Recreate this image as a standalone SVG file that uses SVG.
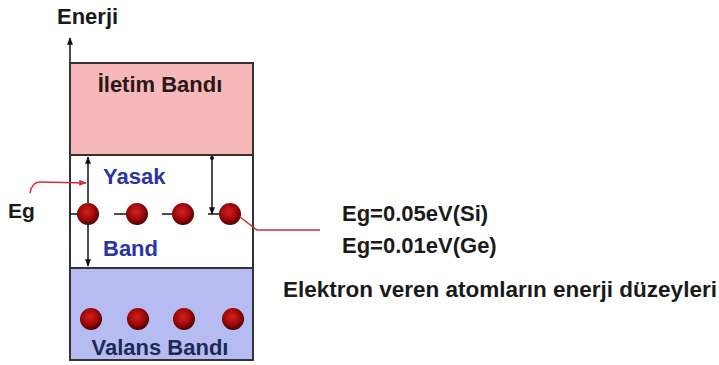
<svg xmlns="http://www.w3.org/2000/svg" width="719" height="365" viewBox="0 0 719 365">
<defs>
<radialGradient id="dot" cx="0.45" cy="0.4" r="0.6">
<stop offset="0" stop-color="#d42020"/>
<stop offset="0.6" stop-color="#a00808"/>
<stop offset="1" stop-color="#4a0000"/>
</radialGradient>
<marker id="ah" viewBox="0 0 10 10" refX="9" refY="5" markerWidth="5" markerHeight="5" orient="auto-start-reverse">
<path d="M0,1 L10,5 L0,9 z" fill="#111"/>
</marker>
<marker id="ahr" viewBox="0 0 10 10" refX="9" refY="5" markerWidth="5" markerHeight="5" orient="auto">
<path d="M0,1 L10,5 L0,9 z" fill="#c8303c"/>
</marker>
</defs>
<style>
text{font-family:"Liberation Sans",Arial,sans-serif;font-weight:bold;font-size:22px}
.box{stroke:#333;stroke-width:2}
.blk{fill:#1a1a1a}
.blue{fill:#2b33a8}
.dot{fill:url(#dot)}
.ln{stroke:#111;stroke-width:1.5;fill:none}
.red{stroke:#c8303c;stroke-width:1.5;fill:none}
</style>
<rect width="719" height="365" fill="#fff"/>
<g id="axis">
<line class="ln" x1="70" y1="360" x2="70" y2="38" marker-end="url(#ah)"/>
<text x="57" y="24" class="blk">Enerji</text>
</g>
<g id="iletim">
<rect class="box" x="70" y="63" width="183" height="92" fill="#f7b8ba"/>
<text x="160" y="92" text-anchor="middle" fill="#2a1818">İletim Bandı</text>
</g>
<g id="yasak">
<rect class="box" x="70" y="155" width="183" height="113" fill="#fff"/>
<text x="103" y="184" class="blue">Yasak</text>
<text x="103" y="256" class="blue">Band</text>
</g>
<g id="valans">
<rect class="box" x="70" y="268" width="183" height="92" fill="#b6bcf2"/>
<text x="160" y="355" text-anchor="middle" fill="#1e2a55">Valans Bandı</text>
<circle class="dot" cx="91" cy="319" r="11"/>
<circle class="dot" cx="138" cy="319" r="11"/>
<circle class="dot" cx="184" cy="319" r="11"/>
<circle class="dot" cx="233" cy="319" r="11"/>
</g>
<g id="donor">
<line class="ln" x1="70" y1="214" x2="80" y2="214"/>
<line class="ln" x1="114" y1="214" x2="127" y2="214"/>
<line class="ln" x1="162" y1="214" x2="173" y2="214"/>
<line class="ln" x1="208" y1="214" x2="220" y2="214"/>
<circle class="dot" cx="88" cy="214" r="11"/>
<circle class="dot" cx="137" cy="214" r="11"/>
<circle class="dot" cx="183" cy="214" r="11"/>
<circle class="dot" cx="230" cy="214" r="11"/>
</g>
<g id="connectors">
<line class="ln" x1="88" y1="203" x2="88" y2="157" marker-end="url(#ah)"/>
<line class="ln" x1="88" y1="225" x2="88" y2="266" marker-end="url(#ah)"/>
<line class="ln" x1="212" y1="157" x2="212" y2="214" marker-end="url(#ah)"/>
<circle cx="212" cy="158" r="2" fill="#111"/>
<path class="red" d="M30,193 Q32,182 40,182 L86,183" marker-end="url(#ahr)"/>
<path class="red" d="M240,217 L257,230 L320,230"/>
</g>
<g id="labels">
<text x="8" y="218" class="blk" style="font-size:21px">Eg</text>
<text x="342" y="221" class="blk">Eg=0.05eV(Si)</text>
<text x="342" y="253" class="blk">Eg=0.01eV(Ge)</text>
<text x="283" y="297" class="blk" style="font-size:22.5px">Elektron veren atomların enerji düzeyleri</text>
</g>
</svg>
